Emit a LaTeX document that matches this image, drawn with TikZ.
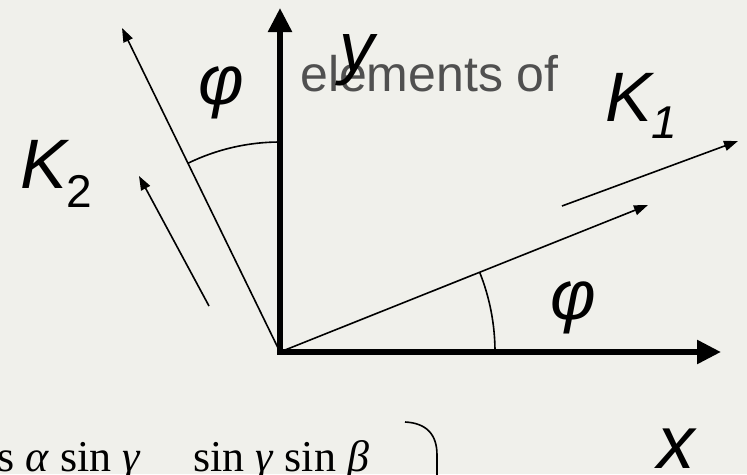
\documentclass[tikz,border=0pt]{standalone}
\usepackage{fontspec}
\setmainfont{Liberation Serif}
\newfontfamily\arialfont{Liberation Sans}
\usepackage{tikz}
\usetikzlibrary{
  arrows.meta,
  positioning
}
\definecolor{PaperGray}{RGB}{240, 240, 235}
\definecolor{TextGray}{RGB}{80, 80, 80}
\tikzset{
    axisline/.style={line width=5.5pt, line join=miter, {Triangle[length=24pt, width=23pt]}-{Triangle[length=24pt, width=23pt]}},
    thinline/.style={line width=1.6pt},
    thinarrow/.style={line width=1.6pt, -{Triangle[length=14pt, width=10pt]}},
    symlabel/.style={inner sep=0pt, font=\arialfont\itshape\fontsize{70}{70}\selectfont},
    formula/.style={inner sep=0pt, anchor=base west, font=\fontsize{44}{44}\selectfont},
}

\begin{document}
\begin{tikzpicture}[x=1pt, y=-1pt]
    \useasboundingbox (0,0) rectangle (747,474);
    \fill[PaperGray] (0,0) rectangle (747,474);
    \clip (0,0) rectangle (747,474);

    \node[inner sep=0pt, anchor=base west, text=TextGray, font=\arialfont\fontsize{50}{50}\selectfont] (caption) at (300,91) {elements of};

    % axes
    \coordinate (origin) at (280,352);
    \coordinate (ytip) at (280,8);
    \coordinate (xtip) at (721,352);
    \draw[axisline] (ytip) -- (origin) -- (xtip);

    % rotated axes
    \coordinate (xrot) at (648,205);
    \coordinate (yrot) at (122,28);
    \draw[thinarrow] (origin) -- (xrot);
    \draw[thinarrow] (origin) -- (yrot);

    % angle marks
    \draw[thinline] (origin) ++(-90:210) arc[start angle=-90, end angle=-116, radius=210];
    \draw[thinline] (origin) ++(0:215) arc[start angle=0, end angle=-21.8, radius=215];

    % directions K1 and K2
    \coordinate (kone start) at (562,206);
    \coordinate (kone end) at (738,141);
    \coordinate (ktwo start) at (209,306);
    \coordinate (ktwo end) at (139,176);
    \draw[thinarrow] (kone start) -- (kone end);
    \draw[thinarrow] (ktwo start) -- (ktwo end);

    % labels
    \node[symlabel] (ylabel) at (357,60) {y};
    \node[symlabel, font=\arialfont\itshape\fontsize{75}{75}\selectfont] (xlabel) at (676,449) {x};
    \node[symlabel] (phiup) at (221,93) {φ};
    \node[symlabel] (philow) at (573,308) {φ};
    \node[symlabel, anchor=base west] (kone) at (605,121) {K\raisebox{-17pt}{\fontsize{46}{46}\selectfont 1}};
    \node[symlabel, anchor=base west] (ktwo) at (20,188) {K\raisebox{-19pt}{\fontsize{46}{46}\selectfont\upshape 2}};

    % matrix entries, cut off at the bottom
    \node[formula] (rowleft) at (-3,471) {s \textit{α} sin \textit{γ}};
    \node[formula] (rowright) at (193,471) {sin \textit{γ} sin \textit{β}};
    \coordinate (brace top) at (405,422);
    \coordinate (brace bottom) at (437,480);
    \draw[thinline] (brace top) .. controls (426,423) and (437,434) .. (437,455) -- (brace bottom);
\end{tikzpicture}
\end{document}
